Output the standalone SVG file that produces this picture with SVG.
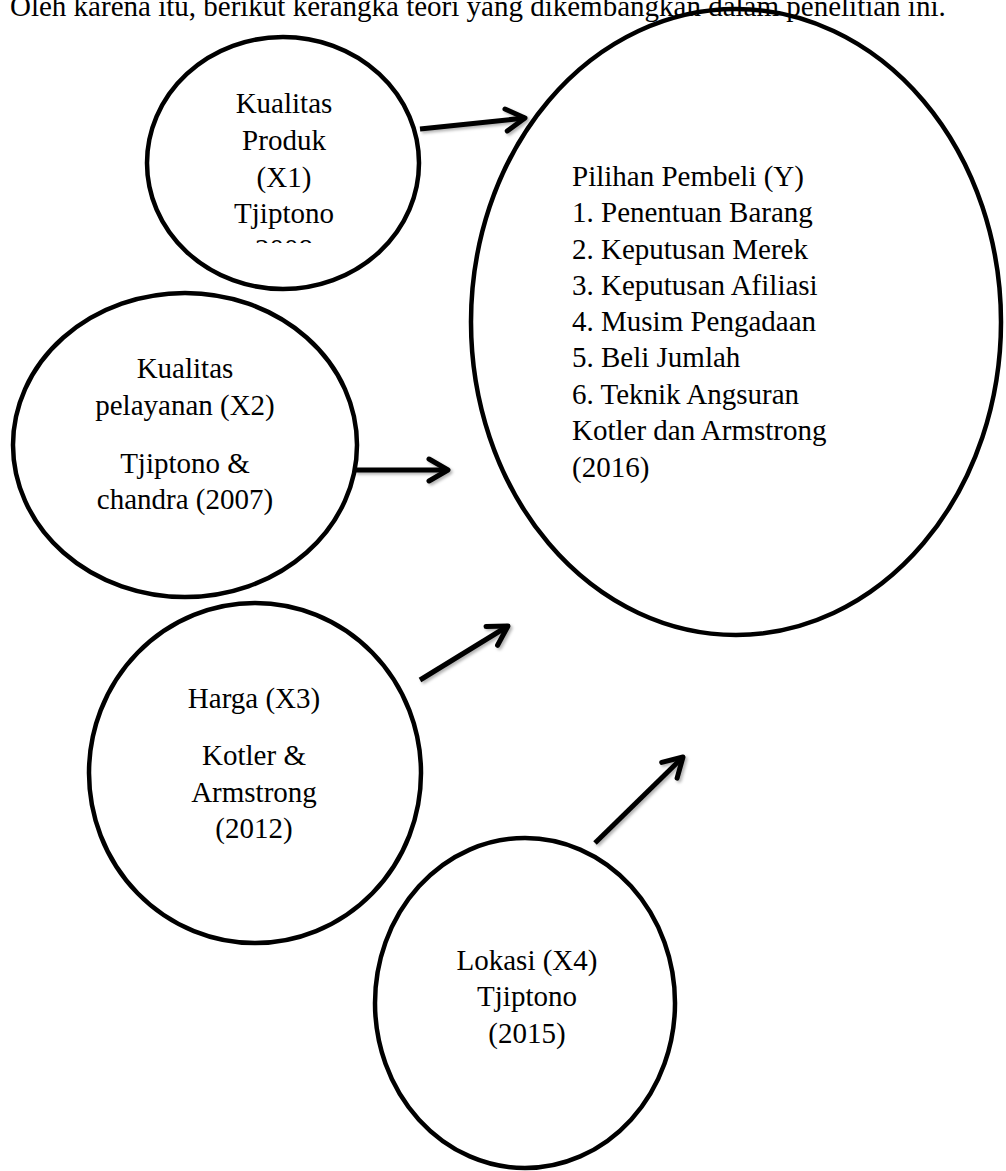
<svg xmlns="http://www.w3.org/2000/svg" width="1006" height="1171" viewBox="0 0 1006 1171">
<style>
.node{fill:none;stroke:#000;stroke-width:4.5}
.t{font-family:"Liberation Serif","Times New Roman",serif;font-size:29px;fill:#000}
.c{text-anchor:middle}
.conn{fill:none;stroke:#000;stroke-width:5}
</style>
<defs>
<marker id="ah" viewBox="0 0 26 28" refX="22" refY="14" markerWidth="26" markerHeight="28" markerUnits="userSpaceOnUse" orient="auto">
<path d="M3,3 L22,14 L3,25" fill="none" stroke="#000" stroke-width="5" stroke-linecap="round" stroke-linejoin="round"/>
</marker>
<filter id="sh" x="-20%" y="-20%" width="140%" height="140%">
<feDropShadow dx="2" dy="2" stdDeviation="1.5" flood-color="#000" flood-opacity="0.3"/>
</filter>
<clipPath id="clipX1"><rect x="147" y="80" width="273" height="163"/></clipPath>
</defs>
<rect width="1006" height="1171" fill="#fff"/>

<g id="Y">
<ellipse class="node" cx="736" cy="322" rx="265" ry="313"/>
<text class="t" x="572" y="186">Pilihan Pembeli (Y)</text>
<text class="t" x="572" y="222">1. Penentuan Barang</text>
<text class="t" x="572" y="259">2. Keputusan Merek</text>
<text class="t" x="572" y="295">3. Keputusan Afiliasi</text>
<text class="t" x="572" y="331">4. Musim Pengadaan</text>
<text class="t" x="572" y="367">5. Beli Jumlah</text>
<text class="t" x="572" y="404">6. Teknik Angsuran</text>
<text class="t" x="572" y="440">Kotler dan Armstrong</text>
<text class="t" x="572" y="477">(2016)</text>
</g>

<g id="X1">
<ellipse class="node" cx="283" cy="163" rx="136" ry="126"/>
<g clip-path="url(#clipX1)">
<text class="t c" x="284" y="113">Kualitas</text>
<text class="t c" x="284" y="150">Produk</text>
<text class="t c" x="284" y="187">(X1)</text>
<text class="t c" x="284" y="223">Tjiptono</text>
<text class="t c" x="284" y="259">2008</text>
</g>
</g>

<g id="X2">
<ellipse class="node" cx="185" cy="445" rx="172" ry="152"/>
<text class="t c" x="185" y="378">Kualitas</text>
<text class="t c" x="185" y="415">pelayanan (X2)</text>
<text class="t c" x="185" y="473">Tjiptono &amp;</text>
<text class="t c" x="185" y="509">chandra (2007)</text>
</g>

<g id="X3">
<ellipse class="node" cx="255" cy="773" rx="166" ry="170"/>
<text class="t c" x="254" y="708">Harga (X3)</text>
<text class="t c" x="254" y="765">Kotler &amp;</text>
<text class="t c" x="254" y="802">Armstrong</text>
<text class="t c" x="254" y="838">(2012)</text>
</g>

<g id="X4">
<ellipse class="node" cx="525" cy="1003" rx="150" ry="165"/>
<text class="t c" x="527" y="970">Lokasi (X4)</text>
<text class="t c" x="527" y="1006">Tjiptono</text>
<text class="t c" x="527" y="1043">(2015)</text>
</g>

<g id="connectors" filter="url(#sh)">
<line class="conn" x1="420" y1="129" x2="525" y2="118" marker-end="url(#ah)"/>
<line class="conn" x1="355" y1="470" x2="448" y2="470" marker-end="url(#ah)"/>
<line class="conn" x1="420" y1="680" x2="508" y2="626" marker-end="url(#ah)"/>
<line class="conn" x1="595" y1="843" x2="683" y2="757" marker-end="url(#ah)"/>
</g>

<text class="t" x="10" y="16">Oleh karena itu, berikut kerangka teori yang dikembangkan dalam penelitian ini.</text>
</svg>
